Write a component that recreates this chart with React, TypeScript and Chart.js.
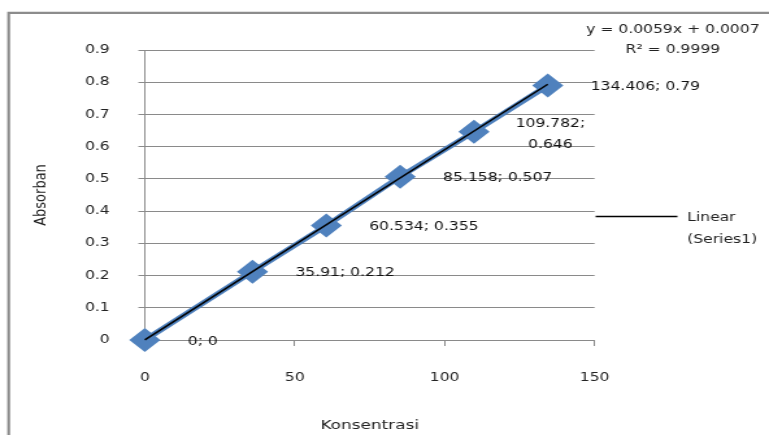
import React, { useEffect, useRef } from "react";
import { Chart, registerables } from "chart.js";

Chart.register(...registerables);

// ---- data ----
const concentrations = [0, 35.91, 60.534, 85.158, 109.782, 134.406];
const absorbances = [0, 0.212, 0.355, 0.507, 0.646, 0.79];
const trendSlope = 0.0059;
const trendIntercept = 0.0007;
const rSquared = "0.9999";
const seriesName = "Series1";
const xTitle = "Konsentrasi";
const yTitle = "Absorban";
const xMin = 0, xMax = 150, xStep = 50;
const yMin = 0, yMax = 0.9, yStep = 0.1;
const wrappedLabelIndexes = [4];

// ---- look ----
const CW = 592;
const CH = 435;
const SX = 769 / CW;
const BLUE = "#4F81BD";
const GRID = "#8a8a8a";
const TEXT = "#222222";
const FONT = "'DejaVu Sans', Verdana, sans-serif";

const annotationPlugin = {
  id: "annotations",
  beforeDraw(chart: any) {
    const ctx = chart.ctx;
    ctx.save();
    ctx.strokeStyle = "#8c8c8c";
    ctx.lineWidth = 2.2;
    ctx.beginPath();
    ctx.moveTo(6.7, CH + 5);
    ctx.lineTo(6.7, 12.8);
    ctx.lineTo(CW + 5, 12.8);
    ctx.stroke();
    ctx.restore();
  },
  afterDatasetsDraw(chart: any) {
    const ctx = chart.ctx;
    const meta = chart.getDatasetMeta(0);
    ctx.save();
    ctx.font = `12px ${FONT}`;
    ctx.fillStyle = "#111";
    ctx.textBaseline = "middle";
    meta.data.forEach((pt: any, i: number) => {
      const left = pt.x + 33;
      if (wrappedLabelIndexes.includes(i)) {
        const lines = [`${concentrations[i]};`, `${absorbances[i]}`];
        const w = Math.max(...lines.map((l) => ctx.measureText(l).width));
        ctx.textAlign = "center";
        lines.forEach((l, j) => ctx.fillText(l, left - 1 + w / 2, pt.y + 2.5 + (j - 0.5) * 21));
      } else {
        ctx.textAlign = "left";
        ctx.fillText(`${concentrations[i]}; ${absorbances[i]}`, left, pt.y + 1.5);
      }
    });
    ctx.restore();
  },
  afterDraw(chart: any) {
    const ctx = chart.ctx;
    ctx.save();
    ctx.font = `12px ${FONT}`;
    ctx.fillStyle = TEXT;
    ctx.textBaseline = "middle";
    ctx.textAlign = "center";
    ctx.fillText(`y = ${trendSlope}x + ${trendIntercept}`, 518, 30);
    ctx.fillText(`R² = ${rSquared}`, 518, 50);
    // legend
    ctx.strokeStyle = "#000";
    ctx.lineWidth = 1.5;
    ctx.beginPath();
    ctx.moveTo(458.5, 216.5);
    ctx.lineTo(521.5, 216.5);
    ctx.stroke();
    ctx.textAlign = "left";
    ctx.fillText("Linear", 529, 218);
    ctx.fillText(`(${seriesName})`, 529, 240);
    ctx.restore();
  },
};

export default function App() {
  const ref = useRef<HTMLCanvasElement>(null);
  useEffect(() => {
    Chart.defaults.font.family = FONT;
    const xEnd = Math.max(...concentrations);
    const trend = [
      { x: 0, y: trendSlope * 0 + trendIntercept },
      { x: xEnd, y: trendSlope * xEnd + trendIntercept },
    ];
    const chart = new Chart(ref.current as HTMLCanvasElement, {
      type: "scatter",
      data: {
        datasets: [
          {
            label: seriesName,
            data: concentrations.map((x, i) => ({ x, y: absorbances[i] })),
            showLine: true,
            borderColor: BLUE,
            borderWidth: 5,
            backgroundColor: BLUE,
            pointStyle: "rectRot",
            pointRadius: 12,
            pointBorderWidth: 0,
            pointBackgroundColor: BLUE,
            clip: false,
            order: 1,
          } as any,
          {
            label: `Linear (${seriesName})`,
            data: trend,
            showLine: true,
            borderColor: "#000",
            borderWidth: 1.6,
            pointRadius: 0,
            clip: false,
            order: 0,
          } as any,
        ],
      },
      options: {
        responsive: false,
        animation: false,
        devicePixelRatio: 1,
        layout: { padding: { top: 50, right: CW - 457.7, left: 0, bottom: 0 } },
        plugins: {
          legend: { display: false },
          tooltip: { enabled: false },
        },
        scales: {
          x: {
            type: "linear",
            min: xMin,
            max: xMax,
            ticks: { stepSize: xStep, padding: 25, color: TEXT, font: { size: 12 } },
            grid: { drawOnChartArea: false, drawTicks: true, tickLength: 6, color: GRID },
            border: { display: true, color: GRID },
            title: { display: true, text: xTitle, color: TEXT, font: { size: 13 }, padding: { top: 0, bottom: 2 } },
            afterFit: (s: any) => { s.height = 95; },
          },
          y: {
            type: "linear",
            min: yMin,
            max: yMax,
            ticks: {
              stepSize: yStep,
              padding: 22,
              color: TEXT,
              font: { size: 12 },
              callback: (v: any) => (Number(v) === 0 ? "0" : Number(v).toFixed(1)),
            },
            grid: { color: GRID, tickLength: 5 },
            border: { display: true, color: GRID },
            title: { display: true, text: yTitle, color: TEXT, font: { size: 13 }, padding: { top: 24, bottom: 0 } },
            afterFit: (s: any) => { s.width = 111.5; },
          },
        },
      } as any,
      plugins: [annotationPlugin],
    });
    return () => chart.destroy();
  }, []);
  return (
    <div style={{ position: "absolute", left: 0, top: 0, width: 769, height: 435, overflow: "hidden", background: "#fff" }}>
      <div style={{ width: CW, height: CH, transform: `scaleX(${SX})`, transformOrigin: "0 0" }}>
        <canvas ref={ref} width={CW} height={CH} style={{ display: "block", width: CW, height: CH }} />
      </div>
    </div>
  );
}
